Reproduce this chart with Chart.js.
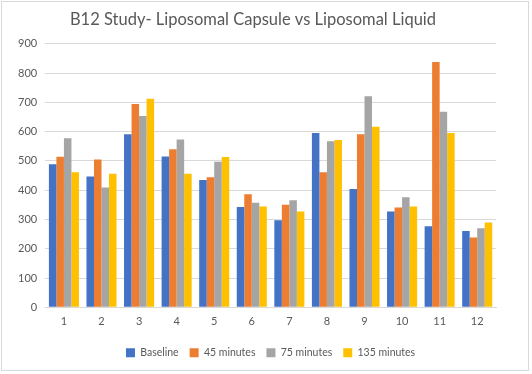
<!DOCTYPE html>
<html>
<head>
<meta charset="utf-8">
<script src="https://cdn.jsdelivr.net/npm/chart.js@4.4.0/dist/chart.umd.min.js"></script>
<style>
  html, body { margin: 0; padding: 0; background: #fff; }
  #wrap { position: absolute; left: 1px; top: 1px; width: 528px; height: 370px; border: 1px solid #d9d9d9; box-sizing: border-box; }
  canvas { display: block; }
</style>
</head>
<body>
<div id="wrap"><canvas id="chart" width="526" height="368"></canvas></div>
<script>
// data
const labels      = ["1","2","3","4","5","6","7","8","9","10","11","12"];
const baseline    = [489, 447, 591, 515, 435, 343, 297, 595, 404, 327, 277, 261];
const min45       = [514, 505, 694, 540, 444, 386, 350, 461, 591, 341, 838, 238];
const min75       = [577, 409, 653, 573, 497, 357, 366, 567, 721, 376, 668, 270];
const min135      = [461, 456, 712, 456, 513, 344, 327, 571, 617, 344, 595, 290];
const seriesNames = ["Baseline", "45 minutes", "75 minutes", "135 minutes"];
const yTicks      = [0, 100, 200, 300, 400, 500, 600, 700, 800, 900];

const colors = ["#4472C4", "#ED7D31", "#A5A5A5", "#FFC000"];
const textColor = "#595959";
const fontFam = "Lato, 'Open Sans', sans-serif";

// shift legend so it sits centred under the plot, like excel does
const legendShift = {
    id: "legendShift",
    afterLayout: function (chart) {
        const a = chart.chartArea;
        const lg = chart.legend;
        const d = (a.left + a.right) / 2 - (lg.left + lg.right) / 2;
        lg.left += d;
        lg.right += d;
    }
};

window.addEventListener("load", function () {
    const allData = [baseline, min45, min75, min135];
    let datasets = [];
    for (let i = 0; i < allData.length; i++) {
        datasets.push({
            label: seriesNames[i],
            data: allData[i],
            backgroundColor: colors[i],
            borderWidth: 0
        });
    }

    const ctx = document.getElementById("chart").getContext("2d");
    new Chart(ctx, {
        type: "bar",
        data: { labels: labels, datasets: datasets },
        plugins: [legendShift],
        options: {
            responsive: false,
            animation: false,
            categoryPercentage: 0.8,
            barPercentage: 1.0,
            layout: { padding: { left: 8, right: 32, top: 2, bottom: 2 } },
            plugins: {
                title: {
                    display: true,
                    text: "B12 Study- Liposomal Capsule vs Liposomal Liquid",
                    color: textColor,
                    font: { family: fontFam, size: 16.5, weight: "normal" },
                    padding: { top: 6, bottom: 14 }
                },
                legend: {
                    position: "bottom",
                    labels: {
                        color: textColor,
                        boxWidth: 9,
                        boxHeight: 9,
                        padding: 11,
                        font: { family: fontFam, size: 10.5 }
                    }
                },
                tooltip: { enabled: false }
            },
            scales: {
                x: {
                    grid: { display: false, drawTicks: false },
                    border: { color: "#d9d9d9" },
                    ticks: { color: textColor, font: { family: fontFam, size: 11 }, padding: 8 }
                },
                y: {
                    min: 0,
                    max: 900,
                    afterBuildTicks: function (axis) {
                        axis.ticks = yTicks.map(v => ({ value: v }));
                    },
                    grid: { color: "#d9d9d9", drawTicks: false },
                    border: { display: false },
                    ticks: { color: textColor, font: { family: fontFam, size: 11 }, padding: 8 }
                }
            }
        }
    });
});
</script>
</body>
</html>
